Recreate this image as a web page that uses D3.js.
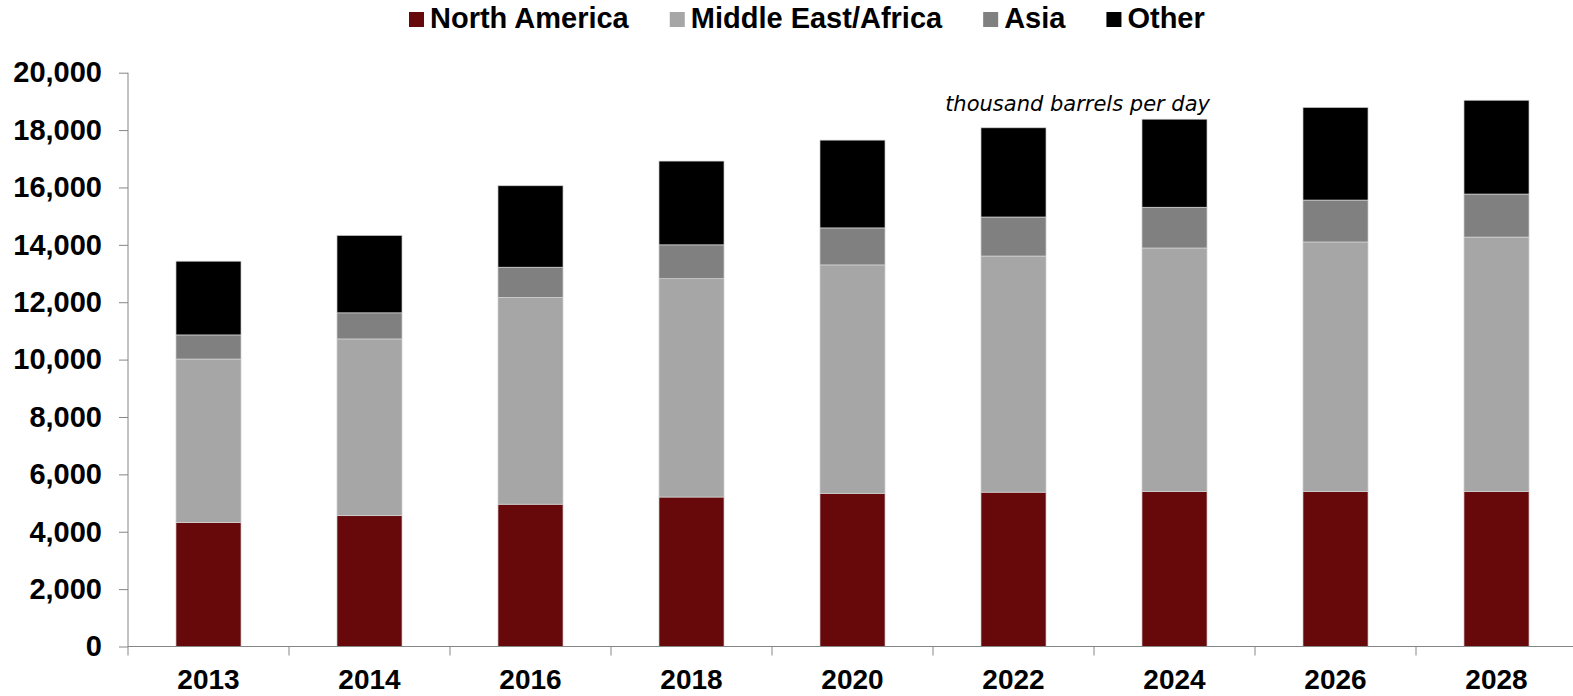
<!DOCTYPE html>
<html>
<head>
<meta charset="utf-8">
<script src="https://cdn.jsdelivr.net/npm/d3@7"></script>
<style>
  body { margin: 0; background: #fff; }
  svg { display: block; }
</style>
</head>
<body>
<svg id="chart"></svg>
<script>
const totalWidth = 1573;
const totalHeight = 696;

// data (thousand barrels per day)
const years = ["2013", "2014", "2016", "2018", "2020", "2022", "2024", "2026", "2028"];
const seriesNames = ["North America", "Middle East/Africa", "Asia", "Other"];
const northAmerica = [4320, 4560, 4960, 5210, 5340, 5380, 5400, 5400, 5400];
const middleEastAfrica = [5700, 6160, 7210, 7610, 7960, 8230, 8490, 8700, 8870];
const asia = [840, 910, 1050, 1180, 1290, 1360, 1420, 1460, 1500];
const other = [2570, 2700, 2840, 2920, 3060, 3110, 3070, 3230, 3270];
const yTicks = [0, 2000, 4000, 6000, 8000, 10000, 12000, 14000, 16000, 18000, 20000];
const colors = ["#67080a", "#a6a6a6", "#808080", "#000000"];

const svg = d3.select('#chart')
    .attr('width', totalWidth)
    .attr('height', totalHeight);

const rows = years.map((y, i) => ({
    year: y,
    "North America": northAmerica[i],
    "Middle East/Africa": middleEastAfrica[i],
    "Asia": asia[i],
    "Other": other[i]
}));

const stacked = d3.stack().keys(seriesNames)(rows);

// x Axis
const x = d3.scaleBand()
    .domain(years)
    .range([128, 1577])
    .paddingInner(0.596)
    .paddingOuter(0.298);
// y Axis
const y = d3.scaleLinear()
    .domain([0, 20000])
    .range([646.5, 72.7]);

const axisColor = "#868686";

// bars
svg.append("g")
    .selectAll("g")
    .data(stacked)
    .enter()
    .append("g")
    .attr("fill", (d, i) => colors[i])
    .selectAll("rect")
    .data(d => d)
    .enter()
    .append("rect")
    .attr("x", d => x(d.data.year))
    .attr("width", x.bandwidth())
    .attr("y", d => y(d[1]))
    .attr("height", d => y(d[0]) - y(d[1]))
    .attr("stroke", "#d4d4d4")
    .attr("stroke-width", 0.7);

// y axis
const yAxis = svg.append("g")
    .attr("transform", "translate(128,0)")
    .call(d3.axisLeft(y).tickValues(yTicks).tickSize(9).tickPadding(17)
        .tickFormat(d3.format(",")));
yAxis.select(".domain").attr("stroke", axisColor).attr("d", `M0,${y(20000)}V${y(0)}`);
yAxis.selectAll(".tick line").attr("stroke", axisColor);
yAxis.selectAll("text")
    .attr("fill", "#000")
    .attr("font-family", "Liberation Sans, Arial, sans-serif")
    .attr("font-weight", "bold")
    .attr("font-size", "29px");

// x axis
const xAxis = svg.append("g")
    .attr("transform", `translate(0,${y(0)})`)
    .call(d3.axisBottom(x).tickSize(0).tickPadding(23));
xAxis.select(".domain").attr("stroke", axisColor).attr("d", `M128,0H1577`);
xAxis.selectAll("text")
    .attr("fill", "#000")
    .attr("font-family", "Liberation Sans, Arial, sans-serif")
    .attr("font-weight", "bold")
    .attr("font-size", "28px");

// category boundary ticks
xAxis.selectAll(".bound")
    .data(d3.range(years.length))
    .enter()
    .append("line")
    .attr("x1", i => x.range()[0] + i * x.step())
    .attr("x2", i => x.range()[0] + i * x.step())
    .attr("y1", 0)
    .attr("y2", 9)
    .attr("stroke", axisColor);

// unit note
svg.append("text")
    .attr("x", 1210)
    .attr("y", 111)
    .attr("text-anchor", "end")
    .attr("font-family", "DejaVu Sans, Verdana, sans-serif")
    .attr("font-style", "italic")
    .attr("font-size", "21px")
    .attr("fill", "#000")
    .text("thousand barrels per day");

// legend
const legend = svg.append("g");
let lx = 409;
seriesNames.forEach((name, i) => {
    legend.append("rect")
        .attr("x", lx)
        .attr("y", 12)
        .attr("width", 15)
        .attr("height", 15)
        .attr("fill", colors[i]);
    const t = legend.append("text")
        .attr("x", lx + 21)
        .attr("y", 28)
        .attr("font-family", "Liberation Sans, Arial, sans-serif")
        .attr("font-weight", "bold")
        .attr("font-size", "29px")
        .attr("fill", "#000")
        .text(name);
    lx += 21 + t.node().getComputedTextLength() + 41;
});
</script>
</body>
</html>
